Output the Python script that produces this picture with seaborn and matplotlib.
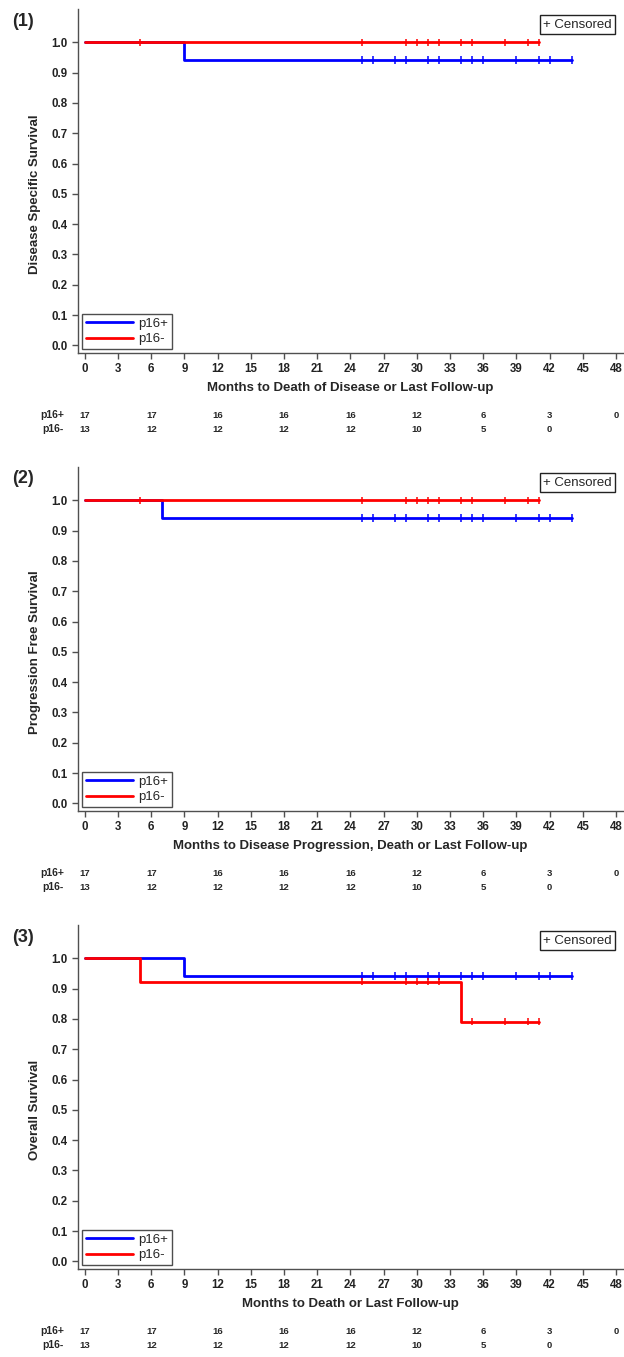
import numpy as np
import pandas as pd
import matplotlib
matplotlib.use('Agg')
import matplotlib.pyplot as plt
import seaborn as sns
from matplotlib.lines import Line2D

sns.set_style('ticks')
plt.rcParams['font.family'] = ['Liberation Sans', 'DejaVu Sans']

groups = ['p16+', 'p16-']
colors = {'p16+': '#0000ff', 'p16-': '#ff0000'}

panel_tags = ['(1)', '(2)', '(3)']
y_labels = ['Disease Specific Survival', 'Progression Free Survival', 'Overall Survival']
x_labels = ['Months to Death of Disease or Last Follow-up',
            'Months to Disease Progression, Death or Last Follow-up',
            'Months to Death or Last Follow-up']

# Kaplan-Meier step curves (time of each step, survival from that time on)
dss_pos_t = [0, 9, 44]
dss_pos_s = [1.0, 0.941, 0.941]
dss_neg_t = [0, 41]
dss_neg_s = [1.0, 1.0]

pfs_pos_t = [0, 7, 44]
pfs_pos_s = [1.0, 0.941, 0.941]
pfs_neg_t = [0, 41]
pfs_neg_s = [1.0, 1.0]

os_pos_t = [0, 9, 44]
os_pos_s = [1.0, 0.941, 0.941]
os_neg_t = [0, 5, 34, 41]
os_neg_s = [1.0, 0.923, 0.791, 0.791]

# censored times
cens_pos = [25, 26, 28, 29, 31, 32, 34, 35, 36, 39, 41, 42, 44]
cens_neg = [5, 25, 29, 30, 31, 32, 34, 35, 38, 40, 41]
os_cens_neg = [25, 29, 30, 31, 32, 35, 38, 40, 41]

# numbers at risk
risk_times = [0, 6, 12, 18, 24, 30, 36, 42, 48]
risk_pos = [17, 17, 16, 16, 16, 12, 6, 3, 0]
risk_neg = [13, 12, 12, 12, 12, 10, 5, 0]

panels = [
    {'pos': (dss_pos_t, dss_pos_s), 'neg': (dss_neg_t, dss_neg_s), 'cpos': cens_pos, 'cneg': cens_neg},
    {'pos': (pfs_pos_t, pfs_pos_s), 'neg': (pfs_neg_t, pfs_neg_s), 'cpos': cens_pos, 'cneg': cens_neg},
    {'pos': (os_pos_t, os_pos_s), 'neg': (os_neg_t, os_neg_s), 'cpos': cens_pos, 'cneg': os_cens_neg},
]


def surv_at(times, surv, t):
    i = np.searchsorted(times, t, side='right') - 1
    return surv[i]


W, H = 624, 1357
fig = plt.figure(figsize=(W / 100, H / 100), dpi=100)

spine_col = '#505050'
ylo, yhi = -0.026, 1.11
xlo, xhi = -0.65, 48.6

for k, p in enumerate(panels):
    dy = 458 * k
    top, bot, left, right = 9 + dy, 353.3 + dy, 77.7, 622.7
    ax = fig.add_axes([left / W, 1 - bot / H, (right - left) / W, (bot - top) / H])

    rows = []
    for g, key in zip(groups, ['pos', 'neg']):
        t, s = p[key]
        for ti, si in zip(t, s):
            rows.append({'group': g, 'time': ti, 'surv': si})
    curve = pd.DataFrame(rows)
    sns.lineplot(data=curve, x='time', y='surv', hue='group', hue_order=groups,
                 palette=colors, drawstyle='steps-post', estimator=None,
                 legend=False, lw=2, ax=ax)

    crow = []
    for g, key, ckey in zip(groups, ['pos', 'neg'], ['cpos', 'cneg']):
        t, s = p[key]
        for c in p[ckey]:
            crow.append({'group': g, 'time': c, 'surv': surv_at(t, s, c)})
    cens = pd.DataFrame(crow)
    sns.scatterplot(data=cens, x='time', y='surv', hue='group', hue_order=groups,
                    palette=colors, marker='|', s=30, linewidth=1.1,
                    legend=False, ax=ax, zorder=3)

    ax.set_xlim(xlo, xhi)
    ax.set_ylim(ylo, yhi)
    ax.set_xticks(np.arange(0, 49, 3))
    ax.set_yticks(np.arange(0, 1.01, 0.1))
    ax.set_yticklabels([f'{v:.1f}' for v in np.arange(0, 1.01, 0.1)])
    for sp in ['top', 'right']:
        ax.spines[sp].set_visible(False)
    for sp in ['left', 'bottom']:
        ax.spines[sp].set_color(spine_col)
        ax.spines[sp].set_linewidth(1.0)
    ax.tick_params(axis='both', colors=spine_col, length=4.5, width=1.0, pad=2.5,
                   labelsize=8.3, labelcolor='#222222')
    for lab in ax.get_xticklabels() + ax.get_yticklabels():
        lab.set_fontweight('bold')

    ax.set_xlabel(x_labels[k], fontsize=9.5, fontweight='bold', labelpad=5)
    ax.set_ylabel(y_labels[k], fontsize=9.5, fontweight='bold')
    ax.yaxis.set_label_coords(-(left - 41) / (right - left), (0.5 - ylo) / (yhi - ylo))

    handles = [Line2D([], [], color=colors[g], lw=2) for g in groups]
    leg = ax.legend(handles, groups, loc='lower left', frameon=True, fancybox=False,
                    fontsize=9.5, handlelength=3.6, borderaxespad=0.3,
                    borderpad=0.3, labelspacing=0.25, handletextpad=0.4)
    leg.get_frame().set_edgecolor('#222222')
    leg.get_frame().set_linewidth(1.0)

    ax.text((612 - left) / (right - left), 0.972, '+ Censored', transform=ax.transAxes,
            ha='right', va='top', fontsize=9.5,
            bbox=dict(boxstyle='square,pad=0.25', fc='white', ec='#222222', lw=1.0))

    # numbers at risk
    for g, vals, off in zip(groups, [risk_pos, risk_neg], [62, 76]):
        ax.annotate(g, xy=(0, 0), xycoords='axes fraction',
                    xytext=(-(left - 64) * 0.72, -off * 0.72), textcoords='offset points',
                    ha='right', va='center', fontsize=7.5, fontweight='bold')
        for t, v in zip(risk_times, vals):
            ax.annotate(str(v), xy=(t, 0), xycoords=('data', 'axes fraction'),
                        xytext=(0, -off * 0.72), textcoords='offset points',
                        ha='center', va='center', fontsize=6.8, fontweight='bold')

    fig.text(12 / W, 1 - (21 + dy) / H, panel_tags[k], ha='left', va='center',
             fontsize=13, fontweight='bold')

fig.savefig('out.png', dpi=100)
